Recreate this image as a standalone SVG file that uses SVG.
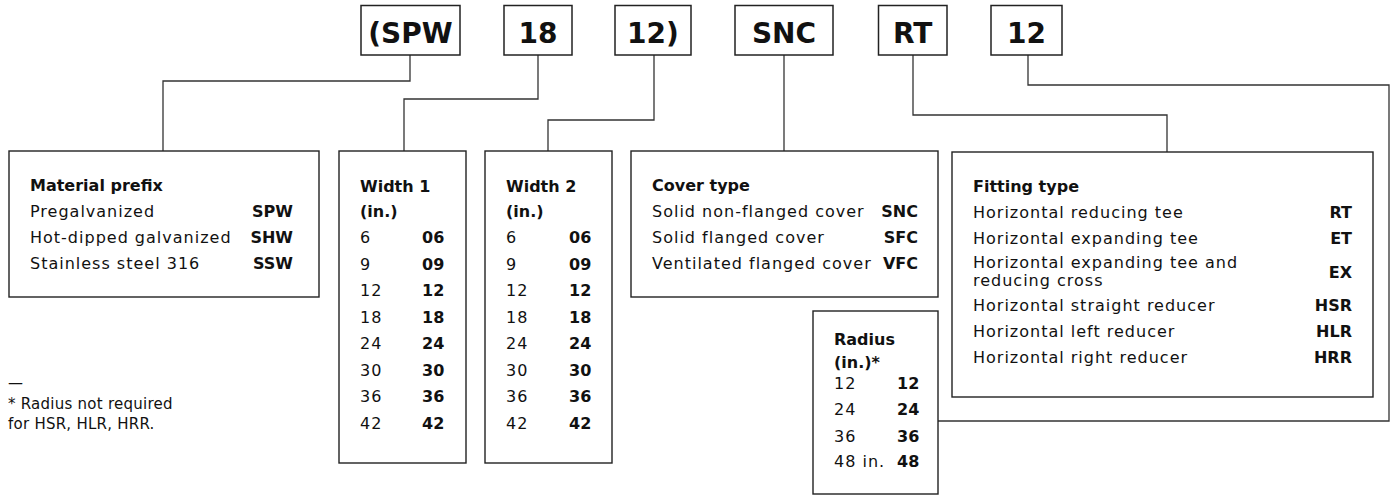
<svg xmlns="http://www.w3.org/2000/svg" width="1397" height="495" viewBox="0 0 1397 495">
<style>
.box{fill:#fff;stroke:#222;stroke-width:1.4}
.tb{fill:#fff;stroke:#222;stroke-width:1.5}
.con{fill:none;stroke:#333;stroke-width:1.3}
text{font-family:"DejaVu Sans","Liberation Sans",sans-serif;fill:#111}
.top{font-size:28px;font-weight:bold;text-anchor:middle}
.h{font-size:16px;font-weight:bold}
.r{font-size:16px;letter-spacing:1px}
.c{font-size:16px;font-weight:bold}
.e{text-anchor:end}
.fn{font-size:15px;letter-spacing:0.25px}
</style>
<rect width="1397" height="495" fill="#fff"/>
<g id="connectors">
<path class="con" d="M410 55V81H163V151"/>
<path class="con" d="M538 55V99H404V151"/>
<path class="con" d="M654 55V120H548V151"/>
<path class="con" d="M784 55V151"/>
<path class="con" d="M913 55V115H1167V152"/>
<path class="con" d="M1028 55V85H1389V421H938"/>
</g>
<g id="code-spw"><rect class="tb" x="361" y="5.5" width="99" height="49.5"/><text class="top" x="410.5" y="42.5">(SPW</text></g>
<g id="code-18"><rect class="tb" x="504" y="5.5" width="68" height="49.5"/><text class="top" x="538" y="42.5">18</text></g>
<g id="code-12a"><rect class="tb" x="615" y="5.5" width="76" height="49.5"/><text class="top" x="653" y="42.5">12)</text></g>
<g id="code-snc"><rect class="tb" x="735" y="5.5" width="98" height="49.5"/><text class="top" x="784" y="42.5">SNC</text></g>
<g id="code-rt"><rect class="tb" x="878.5" y="5.5" width="68.5" height="49.5"/><text class="top" x="912.7" y="42.5">RT</text></g>
<g id="code-12b"><rect class="tb" x="991" y="5.5" width="71" height="49.5"/><text class="top" x="1026.5" y="42.5">12</text></g>

<g id="material">
<rect class="box" x="9" y="151" width="310" height="146"/>
<text class="h" x="30" y="191">Material prefix</text>
<text class="r" x="30" y="217">Pregalvanized</text><text class="c e" x="293" y="217">SPW</text>
<text class="r" x="30" y="243">Hot-dipped galvanized</text><text class="c e" x="293" y="243">SHW</text>
<text class="r" x="30" y="269">Stainless steel 316</text><text class="c e" x="293" y="269">SSW</text>
</g>

<g id="width1">
<rect class="box" x="339" y="151" width="127" height="312"/>
<text class="h" x="360" y="192">Width 1</text>
<text class="h" x="360" y="217">(in.)</text>
<text class="r" x="360" y="243">6</text><text class="c" x="422" y="243">06</text>
<text class="r" x="360" y="269.5">9</text><text class="c" x="422" y="269.5">09</text>
<text class="r" x="360" y="296">12</text><text class="c" x="422" y="296">12</text>
<text class="r" x="360" y="322.5">18</text><text class="c" x="422" y="322.5">18</text>
<text class="r" x="360" y="349">24</text><text class="c" x="422" y="349">24</text>
<text class="r" x="360" y="375.5">30</text><text class="c" x="422" y="375.5">30</text>
<text class="r" x="360" y="402">36</text><text class="c" x="422" y="402">36</text>
<text class="r" x="360" y="428.5">42</text><text class="c" x="422" y="428.5">42</text>
</g>

<g id="width2">
<rect class="box" x="485" y="151" width="127" height="312"/>
<text class="h" x="506" y="192">Width 2</text>
<text class="h" x="506" y="217">(in.)</text>
<text class="r" x="506" y="243">6</text><text class="c" x="569" y="243">06</text>
<text class="r" x="506" y="269.5">9</text><text class="c" x="569" y="269.5">09</text>
<text class="r" x="506" y="296">12</text><text class="c" x="569" y="296">12</text>
<text class="r" x="506" y="322.5">18</text><text class="c" x="569" y="322.5">18</text>
<text class="r" x="506" y="349">24</text><text class="c" x="569" y="349">24</text>
<text class="r" x="506" y="375.5">30</text><text class="c" x="569" y="375.5">30</text>
<text class="r" x="506" y="402">36</text><text class="c" x="569" y="402">36</text>
<text class="r" x="506" y="428.5">42</text><text class="c" x="569" y="428.5">42</text>
</g>

<g id="cover">
<rect class="box" x="631" y="151" width="307" height="146"/>
<text class="h" x="652" y="191">Cover type</text>
<text class="r" x="652" y="217">Solid non-flanged cover</text><text class="c e" x="918" y="217">SNC</text>
<text class="r" x="652" y="243">Solid flanged cover</text><text class="c e" x="918" y="243">SFC</text>
<text class="r" x="652" y="269">Ventilated flanged cover</text><text class="c e" x="918" y="269">VFC</text>
</g>

<g id="fitting">
<rect class="box" x="952" y="152" width="421" height="245"/>
<text class="h" x="973" y="192">Fitting type</text>
<text class="r" x="973" y="218">Horizontal reducing tee</text><text class="c e" x="1352" y="218">RT</text>
<text class="r" x="973" y="244">Horizontal expanding tee</text><text class="c e" x="1352" y="244">ET</text>
<text class="r" x="973" y="268">Horizontal expanding tee and</text>
<text class="r" x="973" y="285.5">reducing cross</text><text class="c e" x="1352" y="278">EX</text>
<text class="r" x="973" y="311">Horizontal straight reducer</text><text class="c e" x="1352" y="311">HSR</text>
<text class="r" x="973" y="337">Horizontal left reducer</text><text class="c e" x="1352" y="337">HLR</text>
<text class="r" x="973" y="363">Horizontal right reducer</text><text class="c e" x="1352" y="363">HRR</text>
</g>

<g id="radius">
<rect class="box" x="813" y="311" width="125" height="183"/>
<text class="h" x="834" y="345">Radius</text>
<text class="h" x="834" y="368">(in.)*</text>
<text class="r" x="834" y="389">12</text><text class="c" x="897" y="389">12</text>
<text class="r" x="834" y="415">24</text><text class="c" x="897" y="415">24</text>
<text class="r" x="834" y="441.5">36</text><text class="c" x="897" y="441.5">36</text>
<text class="r" x="834" y="467">48 in.</text><text class="c" x="897" y="467">48</text>
</g>

<g id="footnote">
<text class="fn" x="8" y="388">—</text>
<text class="fn" x="8" y="409">* Radius not required</text>
<text class="fn" x="8" y="428.5">for HSR, HLR, HRR.</text>
</g>
</svg>
